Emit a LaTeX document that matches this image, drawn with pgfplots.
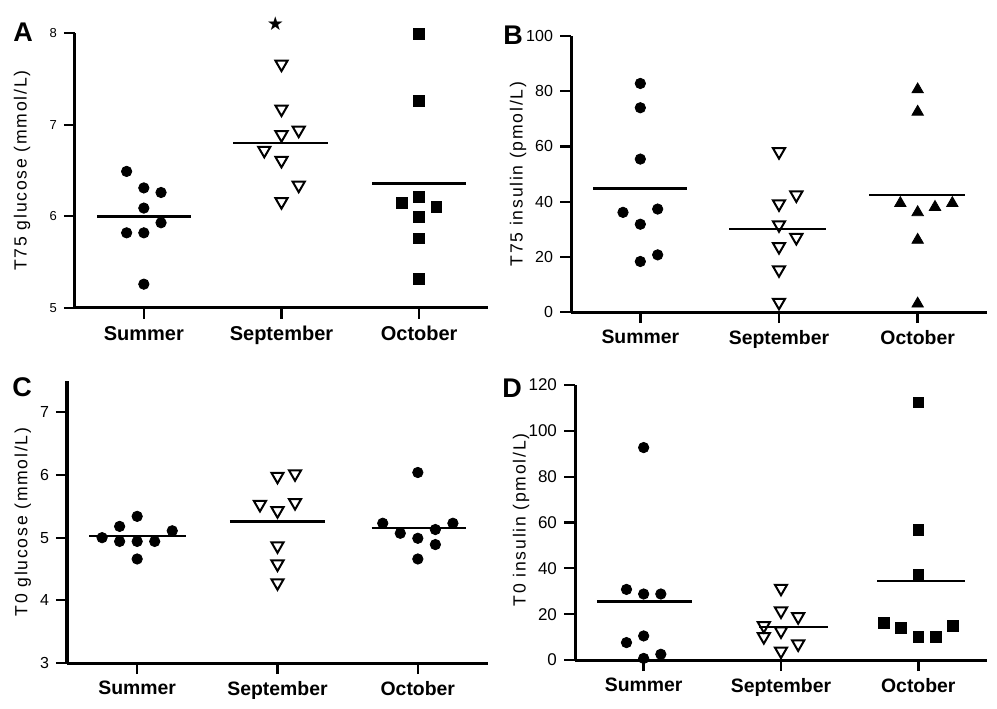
\documentclass[border=0pt]{standalone}
\usepackage{pgfplots}
\pgfplotsset{compat=1.18}
\usepackage{fontspec}
\setmainfont{Liberation Sans}
\newfontfamily\symfont{DejaVu Sans}
\newfontfamily\ylabfont[LetterSpace=10]{Liberation Sans}

\pgfplotsset{
  panel/.style={
    scale only axis,
    axis x line=bottom, axis y line=left,
    axis line style={line width=1.5pt, -},
    xmin=0.5, xmax=3.5,
    xtick={1,2,3}, xticklabels={Summer,September,October},
    tick align=outside,
    major tick length=5.5pt,
    xtick style={line width=1.2pt, black},
    ytick style={line width=1.1pt, black},
    xticklabel style={font=\bfseries\fontsize{10}{12}\selectfont},
    yticklabel style={font=\fontsize{8.5}{10}\selectfont},
    /pgf/number format/assume math mode=true,
    clip=false,
    anchor=south west,
  },
  meanline/.style={line width=1.2pt, black, no marks},
  dots/.style={only marks, mark=*, mark size=2.6pt, black},
  sqs/.style={only marks, mark=square*, mark size=2.7pt, black},
  tris/.style={only marks, mark=triangle, mark size=3.5pt, black, mark options={rotate=180, line width=1pt, fill=white}},
  trisup/.style={only marks, mark=triangle*, mark size=3.3pt, black},
}

\begin{document}
\begin{tikzpicture}
\path[use as bounding box] (0,0) rectangle (498.5pt,354pt);

% Panel A
\begin{axis}[panel, at={(37.5pt,200pt)}, width=206.5pt, height=137.5pt,
  ymin=5, ymax=8, ytick={5,6,7,8},
  yticklabel style={font=\fontsize{6.5}{8}\selectfont},
  ylabel={T75 glucose (mmol/L)},
  ylabel style={at={(axis description cs:-0.128,0.5)}, anchor=center, font=\ylabfont\fontsize{8.8}{10}\selectfont}]
\addplot[dots] coordinates {(0.875,6.49) (1,6.31) (1.125,6.26) (1,6.09) (1.125,5.93) (0.875,5.82) (1,5.82) (1,5.26)};
\addplot[tris] coordinates {(2,7.66) (2,7.17) (2.125,6.94) (2,6.89) (1.875,6.72) (2,6.61) (2.125,6.34) (2,6.16)};
\addplot[sqs] coordinates {(3,7.99) (3,7.26) (3,6.21) (2.875,6.15) (3.125,6.10) (3,5.99) (3,5.76) (3,5.32)};
\addplot[meanline] coordinates {(0.66,6.00) (1.34,6.00)};
\addplot[meanline] coordinates {(1.65,6.80) (2.34,6.80)};
\addplot[meanline] coordinates {(2.66,6.36) (3.34,6.36)};
\node[font=\symfont\fontsize{9.5}{9.5}\selectfont] at (axis cs:1.955,8.10) {★};
\end{axis}

% Panel B
\begin{axis}[panel, at={(285.5pt,198pt)}, width=208pt, height=138pt,
  xticklabel style={font=\bfseries\fontsize{9.7}{12}\selectfont},
  ymin=0, ymax=100, ytick={0,20,40,60,80,100},
  yticklabel style={font=\fontsize{8}{10}\selectfont},
  ylabel={T75 insulin (pmol/L)},
  ylabel style={at={(axis description cs:-0.127,0.5)}, anchor=center, font=\ylabfont\fontsize{8.8}{10}\selectfont}]
\addplot[dots] coordinates {(1,82.8) (1,74.0) (1,55.4) (0.875,36.1) (1.125,37.3) (1,31.8) (1.125,20.7) (1,18.3)};
\addplot[tris] coordinates {(2,58.1) (2.125,42.4) (2,39.2) (2,31.6) (2.125,27.0) (2,23.7) (2,15.3) (2,3.5)};
\addplot[trisup] coordinates {(3,80.6) (3,72.5) (2.875,39.4) (3,36.1) (3.125,38.0) (3.25,39.4) (3,26.1) (3,3.0)};
\addplot[meanline] coordinates {(0.66,44.8) (1.34,44.8)};
\addplot[meanline] coordinates {(1.64,30.1) (2.34,30.1)};
\addplot[meanline] coordinates {(2.65,42.4) (3.34,42.4)};
\end{axis}

% Panel C
\begin{axis}[panel, at={(33.5pt,22.5pt)}, width=210.5pt, height=141pt,
  xticklabel style={font=\bfseries\fontsize{9.7}{12}\selectfont},
  ymin=3, ymax=7.5, ytick={3,4,5,6,7},
  yticklabel style={font=\fontsize{8}{10}\selectfont},
  ylabel={T0 glucose (mmol/L)},
  ylabel style={at={(axis description cs:-0.105,0.5)}, anchor=center, font=\ylabfont\fontsize{8.8}{10}\selectfont}]
\addplot[dots] coordinates {(0.75,5.00) (0.875,5.18) (1,5.34) (0.875,4.94) (1,4.94) (1.125,4.94) (1.25,5.11) (1,4.66)};
\addplot[tris] coordinates {(2,5.98) (2.125,6.02) (1.875,5.53) (2,5.43) (2.125,5.56) (2,4.87) (2,4.58) (2,4.28)};
\addplot[dots] coordinates {(3,6.04) (2.75,5.23) (3.25,5.23) (2.875,5.07) (3.125,5.13) (3,4.99) (3.125,4.89) (3,4.66)};
\addplot[meanline] coordinates {(0.66,5.03) (1.35,5.03)};
\addplot[meanline] coordinates {(1.66,5.26) (2.34,5.26)};
\addplot[meanline] coordinates {(2.67,5.15) (3.34,5.15)};
\end{axis}

% Panel D
\begin{axis}[panel, at={(287.5pt,24pt)}, width=206pt, height=137.5pt,
  xticklabel style={font=\bfseries\fontsize{9.7}{12}\selectfont},
  ymin=0, ymax=120, ytick={0,20,40,60,80,100,120},
  ylabel={T0 insulin (pmol/L)},
  ylabel style={at={(axis description cs:-0.131,0.51)}, anchor=center, font=\ylabfont\fontsize{8.8}{10}\selectfont}]
\addplot[dots] coordinates {(1,92.7) (0.875,30.8) (1,28.8) (1.125,28.8) (0.875,7.6) (1,10.5) (1,0.7) (1.125,2.5)};
\addplot[tris] coordinates {(2,31.3) (2,21.4) (2.125,18.9) (1.875,15.0) (2,12.7) (1.875,10.2) (2.125,7.0) (2,3.9)};
\addplot[sqs] coordinates {(3,112.4) (3,56.7) (3,37.1) (2.75,16.3) (2.875,14.1) (3,10.2) (3.125,10.2) (3.25,14.8)};
\addplot[meanline] coordinates {(0.66,25.5) (1.35,25.5)};
\addplot[meanline] coordinates {(1.84,14.5) (2.34,14.5)};
\addplot[meanline] coordinates {(2.70,34.5) (3.34,34.5)};
\end{axis}

\node[font=\bfseries\fontsize{13.5}{14}\selectfont] at (11.5pt,338pt) {A};
\node[font=\bfseries\fontsize{13.5}{14}\selectfont] at (256.5pt,336.5pt) {B};
\node[font=\bfseries\fontsize{13.5}{14}\selectfont] at (11pt,160.5pt) {C};
\node[font=\bfseries\fontsize{13.5}{14}\selectfont] at (256pt,160pt) {D};
\end{tikzpicture}
\end{document}
